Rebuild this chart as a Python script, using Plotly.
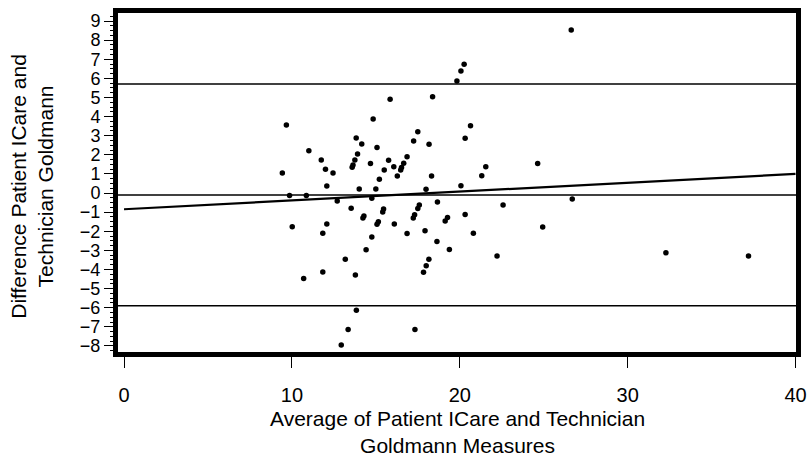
import plotly.graph_objects as go

# Bland-Altman data: average (x) and difference (y)
avg_vals = [15.85, 14.84, 9.67, 13.83, 14.16, 15.07, 11.01, 13.91, 11.75, 13.75,
            13.64, 13.59, 15.76, 14.68, 16.07, 12.0, 12.45, 15.5, 16.28, 9.43,
            15.21, 12.08, 14.01, 15.0, 9.86, 10.86, 12.70, 14.76, 13.53, 15.46,
            15.41, 14.29, 14.23, 10.02, 12.08, 11.84, 15.15, 15.07, 16.1, 14.76,
            14.42, 13.18, 11.84, 10.70, 13.78, 13.84, 13.35, 12.94, 20.26, 20.07,
            19.83, 18.38, 20.64, 20.32, 17.5, 17.25, 18.17, 16.86, 16.66, 16.53,
            16.48, 18.32, 21.55, 21.31, 24.64, 20.07, 17.99, 17.59, 17.5, 18.67,
            22.58, 17.31, 17.23, 19.27, 19.13, 20.32, 16.86, 17.93, 20.81, 24.94,
            18.64, 19.38, 22.22, 18.16, 18.0, 17.84, 17.33, 26.64, 26.70, 32.28,
            37.20]
diff_vals = [4.90, 3.87, 3.56, 2.88, 2.57, 2.38, 2.21, 2.04, 1.73, 1.73,
             1.47, 1.35, 1.71, 1.55, 1.37, 1.24, 1.05, 1.20, 0.89, 1.05,
             0.72, 0.37, 0.21, 0.21, -0.13, -0.13, -0.42, -0.28, -0.80, -0.84,
             -0.99, -1.20, -1.31, -1.76, -1.62, -2.11, -1.50, -1.64, -1.62, -2.30,
             -2.97, -3.47, -4.14, -4.47, -4.29, -6.13, -7.14, -7.96, 6.74, 6.39,
             5.86, 5.04, 3.52, 2.87, 3.20, 2.72, 2.55, 1.90, 1.56, 1.34,
             1.20, 0.89, 1.38, 0.90, 1.54, 0.38, 0.20, -0.63, -0.81, -0.47,
             -0.63, -1.14, -1.31, -1.28, -1.47, -1.13, -2.12, -1.97, -2.11, -1.78,
             -2.54, -2.96, -3.30, -3.46, -3.81, -4.15, -7.14, 8.53, -0.31, -3.13,
             -3.30]

mean_diff = -0.1
upper_loa = 5.7
lower_loa = -5.9
reg_x = [0, 40]
reg_y = [-0.85, 1.0]

x_ticks = [0, 10, 20, 30, 40]
y_ticks = list(range(-8, 10))
x_range = [-0.36, 40.03]
y_range = [-8.32, 9.42]

x_title = "Average of Patient ICare and Technician<br>Goldmann Measures"
y_title = "Difference Patient ICare and<br>Technician Goldmann"

FONT = "Liberation Sans, Arial, Helvetica, sans-serif"

fig = go.Figure()

for yv in [upper_loa, mean_diff, lower_loa]:
    fig.add_trace(go.Scatter(x=x_range, y=[yv, yv], mode="lines",
                             line=dict(color="black", width=1.5),
                             hoverinfo="skip", showlegend=False))

fig.add_trace(go.Scatter(x=reg_x, y=reg_y, mode="lines",
                         line=dict(color="black", width=2.2),
                         hoverinfo="skip", showlegend=False))

fig.add_trace(go.Scatter(x=avg_vals, y=diff_vals, mode="markers",
                         marker=dict(color="black", size=5.5, symbol="circle"),
                         showlegend=False))

fig.update_layout(
    width=807, height=457,
    margin=dict(l=118, r=11, t=13, b=105),
    paper_bgcolor="white", plot_bgcolor="white",
    font=dict(family=FONT, size=20, color="black"),
    xaxis=dict(range=x_range, tickvals=x_ticks, ticks="outside", ticklen=11,
               tickwidth=1.2, tickcolor="black", showgrid=False, zeroline=False,
               showline=True, linecolor="black", linewidth=5, mirror=True,
               tickfont=dict(size=20), ticklabelstandoff=10, automargin=False),
    yaxis=dict(range=y_range, tickvals=y_ticks, ticks="outside", ticklen=9,
               tickwidth=1.2, tickcolor="black", showgrid=False, zeroline=False,
               showline=True, linecolor="black", linewidth=5, mirror=True,
               tickfont=dict(size=18), automargin=False,
               minor=dict(dtick=0.25, ticks="outside", ticklen=3, tickcolor="black",
                          tickwidth=1, showgrid=False)),
    annotations=[
        dict(text=x_title, xref="paper", yref="paper", x=0.5, y=-0.235,
             xanchor="center", yanchor="middle", showarrow=False,
             font=dict(size=21, family=FONT, color="black")),
        dict(text=y_title, xref="paper", yref="paper", x=-0.127, y=0.49,
             xanchor="center", yanchor="middle", showarrow=False, textangle=-90,
             font=dict(size=21, family=FONT, color="black")),
    ],
)

fig.write_html("out.html")
